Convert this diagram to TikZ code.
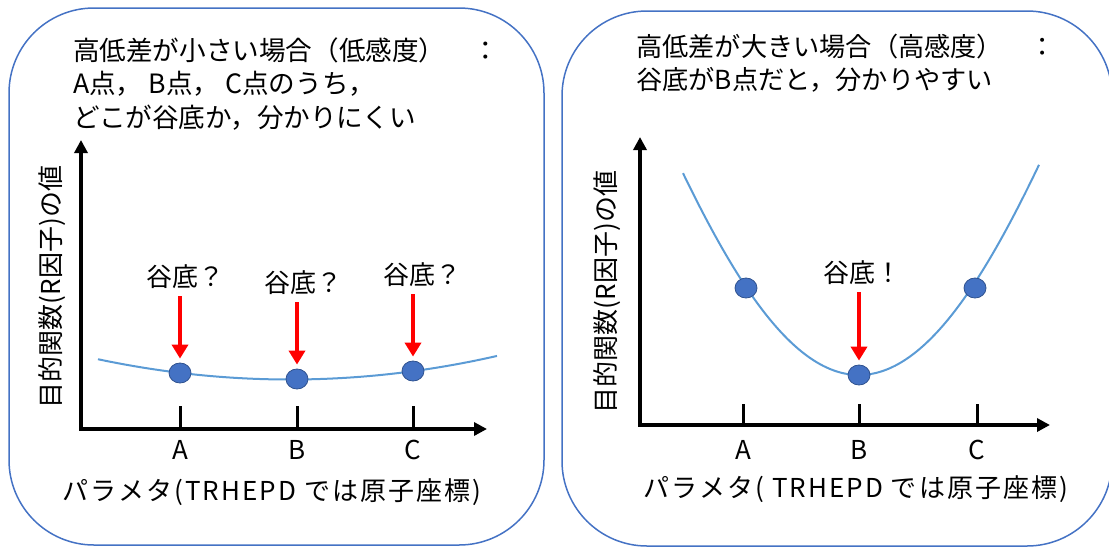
\documentclass[tikz,border=0pt]{standalone}
\usepackage{fontspec}
\setmainfont{Noto Sans CJK JP}
\newfontfamily\jpwide[LetterSpace=8]{Noto Sans CJK JP}
\usetikzlibrary{arrows.meta,shapes.geometric}
\definecolor{panelblue}{RGB}{68,114,196}
\definecolor{curveblue}{RGB}{91,155,213}
\definecolor{dotblue}{RGB}{68,114,196}
\definecolor{dotedge}{RGB}{47,82,143}
\begin{document}
\begin{tikzpicture}[x=1pt,y=-1pt,
 panel/.style={draw=panelblue, line width=1.5pt, rounded corners=85pt},
 txt/.style={font=\fontsize{26}{33}\selectfont, inner sep=0pt},
 ttl/.style={font=\fontsize{26.6}{33}\selectfont, inner sep=0pt, anchor=base west},
 rttl/.style={font=\fontsize{26.2}{33}\selectfont, inner sep=0pt, anchor=base west},
 wide/.style={font=\jpwide\fontsize{26}{33}\selectfont, inner sep=0pt},
 axis/.style={line width=4pt, line join=miter, {Triangle[length=13pt,width=13pt]}-{Triangle[length=13pt,width=13pt]}},
 tickmark/.style={line width=3pt},
 curve/.style={draw=curveblue, line width=2pt},
 dot/.style={ellipse, fill=dotblue, draw=dotedge, line width=0.8pt, minimum width=22pt, minimum height=20pt, inner sep=0pt},
 redarrow/.style={draw=red, line width=4pt, -{Triangle[length=14pt,width=16pt]}, shorten >=4pt, shorten <=7pt}
]
\useasboundingbox (0,0) rectangle (1109,547);
\clip (0,0) rectangle (1109,547);

% ---------- left panel ----------
\draw[panel] (9,8) rectangle (544,545);
\node[ttl] (Lt1) at (73,60) {高低差が小さい場合（低感度）　：};
\node[ttl] (Lt2) at (73,93) {A点，\hspace{6pt}B点，\hspace{6pt}C点のうち，};
\node[ttl] (Lt3) at (73,127) {どこが谷底か，分かりにくい};

\coordinate (Lo) at (81,429);
\coordinate (Lyt) at (81,140);
\coordinate (Lxt) at (487,429);
\draw[axis] (Lyt) -- (Lo) -- (Lxt);
\foreach \p/\n in {180/A,297/B,413/C}{
  \draw[tickmark] (\p,429) -- (\p,406);
  \node[txt] (Lx\n) at (\p,450) {\n};
}
\node[txt, rotate=90] (Lylab) at (52,287) {目的関数(R因子)の値};
\node[wide] (Lxlab) at (272,492) {パラメタ(TRHEPD では原子座標)};

\draw[curve] plot[domain=98:497, samples=80] (\x, {379.5 - 5.5*((\x-290)/100)*((\x-290)/100)});
\node[dot] (LA) at (180,373) {};
\node[dot] (LB) at (297,379) {};
\node[dot] (LC) at (413,371) {};
\node[txt] (LAl) at (185,277) {谷底？};
\node[txt] (LBl) at (303,283) {谷底？};
\node[txt] (LCl) at (422,275) {谷底？};
\draw[redarrow] (LAl.south -| LA.north) -- (LA.north);
\draw[redarrow] (LBl.south -| LB.north) -- (LB.north);
\draw[redarrow] (LCl.south -| LC.north) -- (LC.north);

% ---------- right panel ----------
\draw[panel] (562,11) rectangle (1112,546);
\node[rttl] (Rt1) at (636,56) {高低差が大きい場合（高感度）　：};
\node[rttl] (Rt2) at (636,89.5) {谷底がB点だと，分かりやすい};

\coordinate (Ro) at (640,425);
\coordinate (Ryt) at (640,137);
\coordinate (Rxt) at (1050,425);
\draw[axis] (Ryt) -- (Ro) -- (Rxt);
\foreach \p/\n in {743/A,859/B,977/C}{
  \draw[tickmark] (\p,425) -- (\p,404);
  \node[txt] (Rx\n) at (\p,450) {\n};
}
\node[txt, rotate=90] (Rylab) at (607,292) {目的関数(R因子)の値};
\node[wide] (Rxlab) at (856,489) {パラメタ( TRHEPD では原子座標)};

\draw[curve] plot[domain=683:1039, samples=100] (\x, {375 - 71.6*((\x-859)/100)*((\x-859)/100) + 2.08*((\x-859)/100)*((\x-859)/100)*((\x-859)/100)*((\x-859)/100)});
\node[dot] (RA) at (746,288) {};
\node[dot] (RB) at (859,375) {};
\node[dot] (RC) at (975,288) {};
\node[txt] (RBl) at (862,273) {谷底！};
\draw[redarrow] (RBl.south -| RB.north) -- (RB.north);
\end{tikzpicture}
\end{document}
